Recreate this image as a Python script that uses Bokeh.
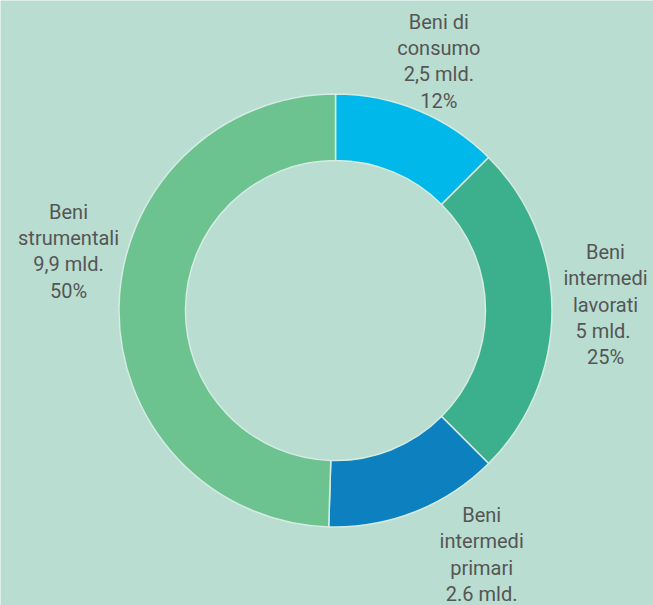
import math
from bokeh.plotting import figure
from bokeh.models import Range1d, ColumnDataSource
from bokeh.core.properties import value
from bokeh.embed import file_html
from bokeh.resources import INLINE

# ---- data ----
categories = ["Beni di consumo", "Beni intermedi lavorati", "Beni intermedi primari", "Beni strumentali"]
values_mld = [2.5, 5.0, 2.6, 9.9]
label_lines = [
    ["Beni di", "consumo", "2,5 mld.", "12%"],
    ["Beni", "intermedi", "lavorati", " 5 mld.", "25%"],
    ["Beni", "intermedi", "primari", "2.6 mld."],
    ["Beni", "strumentali", "9,9 mld.", "50%"],
]
colors = ["#00b8ea", "#3cb08c", "#0d80c0", "#6cc38f"]

BG = "#b9ddd0"
TEXT = "#555555"

# ---- layout ----
W, H = 653, 605
cx_px, cy_px = 335, 310  # centre in picture pixels
p = figure(width=W, height=H, output_backend="svg", toolbar_location=None,
           x_range=Range1d(-cx_px, W - cx_px),
           y_range=Range1d(cy_px - H, cy_px),
           min_border=0)
p.axis.visible = False
p.grid.visible = False
p.outline_line_color = None
p.background_fill_color = BG
p.border_fill_color = BG

total = sum(values_mld)
starts, ends, mids = [], [], []
acc = 0.0
for v in values_mld:
    a0 = math.pi / 2 - acc / total * 2 * math.pi
    acc += v
    a1 = math.pi / 2 - acc / total * 2 * math.pi
    starts.append(a0)
    ends.append(a1)
    mids.append((a0 + a1) / 2)

src = ColumnDataSource(dict(start=starts, end=ends, color=colors, cat=categories))
p.annular_wedge(x=0, y=0, inner_radius=150, outer_radius=216.5,
                start_angle="start", end_angle="end", direction="clock",
                fill_color="color", line_color="#d4ece3", line_width=1.5, source=src)

# label placement: radius along mid angle plus small nudges
label_radius = [270, 270, 283, 270]
nudge = [(0, 0), (0, 6), (42, 19), (3, 55)]
line_h = 26.3
xs, ys, ts = [], [], []
for i, lines in enumerate(label_lines):
    bx = label_radius[i] * math.cos(mids[i]) + nudge[i][0]
    by = label_radius[i] * math.sin(mids[i]) + nudge[i][1]
    n = len(lines)
    for k, t in enumerate(lines):
        xs.append(bx)
        ys.append(by + ((n - 1) / 2 - k) * line_h)
        ts.append(t)

p.text(x=xs, y=ys, text=ts, text_align="center", text_baseline="middle",
       text_font=value("Roboto"), text_font_size="20px", text_color=TEXT)

html = file_html(p, INLINE)
open("out.html", "w").write(html)
